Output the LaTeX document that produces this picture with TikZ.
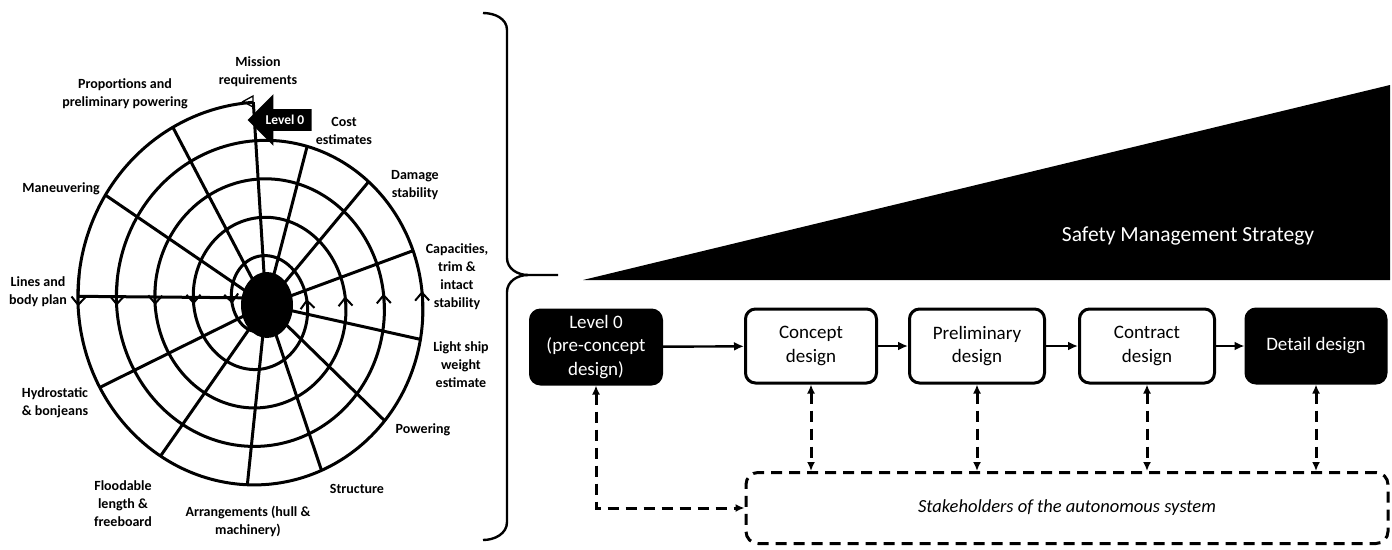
\documentclass[tikz,border=0pt]{standalone}
\usepackage{fontspec}
\setmainfont{Carlito}
\usetikzlibrary{
  arrows.meta,
  shapes.arrows}

\begin{document}
\begin{tikzpicture}[x=1pt,y=-1pt]
\tikzset{
  ring/.style={line width=3pt},
  barb/.style={line width=2pt, -{Straight Barb[length=8pt,width=14pt]}},
  lbl/.style={font=\bfseries\fontsize{14}{18}\selectfont, align=center, inner sep=0pt},
  phase/.style={draw, line width=3pt, rounded corners=10pt, minimum width=131pt,
    minimum height=74pt, align=center, font=\fontsize{19}{23.5}\selectfont},
  darkphase/.style={phase, fill=black, text=white},
  flow/.style={line width=2.4pt, -{Latex[length=10pt,width=9pt]}},
  link/.style={line width=3pt, dash pattern=on 11pt off 7pt,
    {Latex[length=9pt,width=8pt]}-{Latex[length=9pt,width=8pt]}},
}
\useasboundingbox (0,0) rectangle (1392,549);

\draw[ring, smooth] plot[domain=92:1705, samples=500, variable=\t]
  ({260+(201.3-0.107*\t)*cos(\t)},{303-(210.7-0.107*\t)*sin(\t)});
\foreach \a in {92,117.5,146.4,206.6,235.6,265.8,291.2,318.2,347.9,377.9,406.5,432.3}
  \draw[ring] (266,305) -- ({260+(201.3-0.107*\a)*cos(\a)},{303-(210.7-0.107*\a)*sin(\a)});
\draw[ring] (266,298) -- ({260+(201.3-0.107*178)*cos(178)},{303-(210.7-0.107*178)*sin(178)});
\foreach \k in {0,...,4}
  \draw[barb] ({260+(201.3-0.107*(170+360*\k))*cos(170+360*\k)},{303-(210.7-0.107*(170+360*\k))*sin(170+360*\k)})
    -- ({260+(201.3-0.107*(181+360*\k))*cos(181+360*\k)},{303-(210.7-0.107*(181+360*\k))*sin(181+360*\k)});
\foreach \k in {1,...,4}
  \draw[barb] ({260+(201.3-0.107*(360*\k-6))*cos(360*\k-6)},{303-(210.7-0.107*(360*\k-6))*sin(360*\k-6)})
    -- ({260+(201.3-0.107*(360*\k+4))*cos(360*\k+4)},{303-(210.7-0.107*(360*\k+4))*sin(360*\k+4)});
\draw[line width=1.3pt] (253,96) -- (243,101.5) -- (253,107) -- cycle;
\fill (267,305) ellipse [x radius=26, y radius=33];

\node[single arrow, shape border rotate=180, fill=black, text=white,
  font=\bfseries\fontsize{13.5}{15}\selectfont, minimum height=64pt,
  inner xsep=3pt, inner ysep=6pt, single arrow head extend=15pt,
  single arrow head indent=0pt] (lvlmark) at (285,120) {Level 0};

\node[lbl] (mission) at (258,72) {Mission\\requirements};
\node[lbl] (proportions) at (125,94) {Proportions and\\preliminary powering};
\node[lbl] (cost) at (344,131) {Cost\\estimates};
\node[lbl] (damage) at (415,185) {Damage\\stability};
\node[lbl] (capacities) at (457,277) {Capacities,\\trim \&\\intact\\stability};
\node[lbl] (lightship) at (461,365) {Light ship\\weight\\estimate};
\node[lbl] (powering) at (423,430) {Powering};
\node[lbl] (structure) at (357,489) {Structure};
\node[lbl] (arrangements) at (248,521) {Arrangements (hull \&\\machinery)};
\node[lbl] (floodable) at (123,504) {Floodable\\length \&\\freeboard};
\node[lbl] (hydrostatic) at (55,403) {Hydrostatic\\\& bonjeans};
\node[lbl] (lines) at (38,292) {Lines and\\body plan};
\node[lbl] (maneuvering) at (61,189) {Maneuvering};

\draw[line width=2.4pt] (483,13) to[out=0,in=90] (507,30) -- (507,258)
  to[out=-90,in=180] (528,275) -- (558,275);
\draw[line width=2.4pt] (528,275) to[out=180,in=90] (507,292) -- (507,522)
  to[out=-90,in=0] (483,540);

\fill (583,280) -- (1390,85) -- (1390,280) -- cycle;
\node[text=white, font=\fontsize{21.5}{24}\selectfont] (sms) at (1188,236) {Safety Management Strategy};

\node[darkphase] (lvlzero) at (596,347) {Level 0\\(pre-concept\\design)};
\node[phase] (concept) at (811,346) {Concept\\design};
\node[phase, minimum width=135pt] (prelim) at (977,346) {Preliminary\\design};
\node[phase, minimum width=135pt] (contract) at (1147,346) {Contract\\design};
\node[darkphase, minimum width=140pt] (detail) at (1316,346) {Detail design};
\node[draw, line width=3pt, dash pattern=on 11pt off 7pt, rounded corners=12pt,
  minimum width=642pt, minimum height=71pt,
  font=\itshape\fontsize{18.5}{22}\selectfont] (stake) at (1067,508) {Stakeholders of the autonomous system};

\draw[flow] (lvlzero) -- (concept);
\draw[flow] (concept) -- (prelim);
\draw[flow] (prelim) -- (contract);
\draw[flow] (contract) -- (detail);

\draw[link] (lvlzero.south) |- (stake.west);
\foreach \n in {concept,prelim,contract,detail}
  \draw[link] (\n.south) -- (\n.south |- stake.north);
\end{tikzpicture}
\end{document}
